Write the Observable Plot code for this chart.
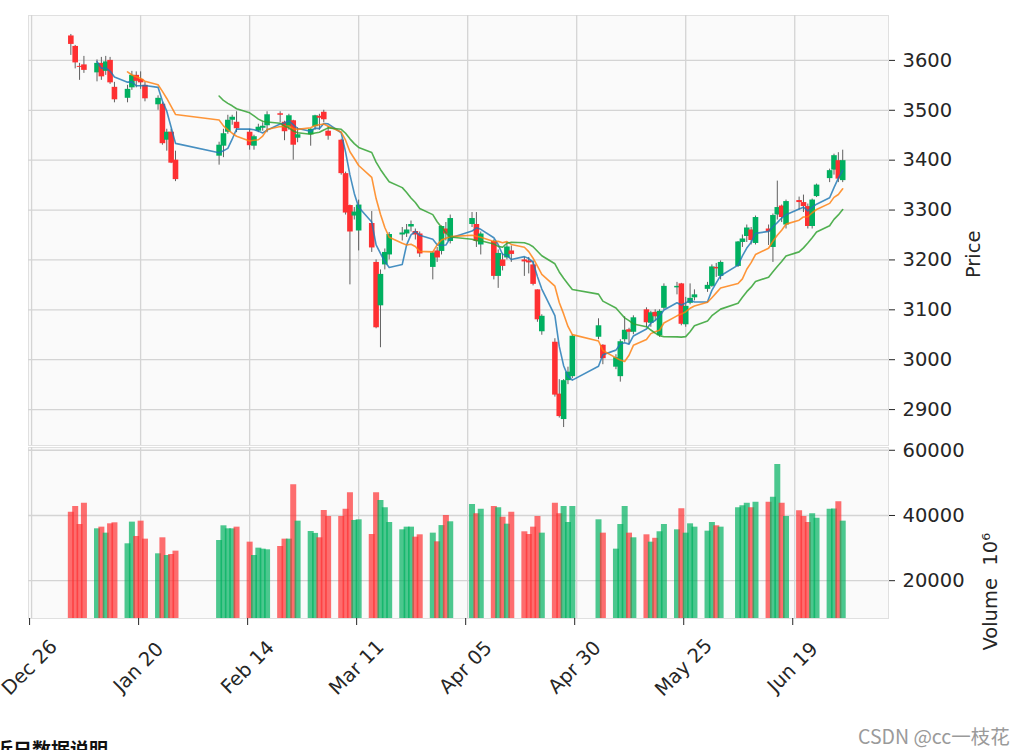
<!DOCTYPE html>
<html><head><meta charset="utf-8">
<script src="https://cdn.jsdelivr.net/npm/d3@7"></script>
<script src="https://cdn.jsdelivr.net/npm/@observablehq/plot@0.6"></script>
<style>
body{margin:0;background:#fff;}
#wrap{position:relative;width:1032px;height:750px;overflow:hidden;font-family:"DejaVu Sans",sans-serif;}
#price{position:absolute;left:0;top:0;}
#vol{position:absolute;left:0;top:447px;}
#wm{position:absolute;left:858px;top:721px;font-family:"Liberation Sans Narrow","Noto Sans CJK SC",sans-serif;font-size:19.5px;color:#9a9a9a;white-space:nowrap;}
#hd{position:absolute;left:-6px;top:739px;font-family:"Noto Sans CJK SC",sans-serif;font-weight:bold;font-size:19px;line-height:1;color:#111;white-space:nowrap;}
</style></head><body>
<div id="wrap"><div id="price"></div><div id="vol"></div><div id="wm">CSDN @cc一枝花</div><div id="hd">近日数据说明</div></div>
<script>
const dates = ["2022-01-04","2022-01-05","2022-01-06","2022-01-07","2022-01-10","2022-01-11","2022-01-12","2022-01-13","2022-01-14","2022-01-17","2022-01-18","2022-01-19","2022-01-20","2022-01-21","2022-01-24","2022-01-25","2022-01-26","2022-01-27","2022-01-28",
"2022-02-07","2022-02-08","2022-02-09","2022-02-10","2022-02-11","2022-02-14","2022-02-15","2022-02-16","2022-02-17","2022-02-18","2022-02-21","2022-02-22","2022-02-23","2022-02-24","2022-02-25","2022-02-28",
"2022-03-01","2022-03-02","2022-03-03","2022-03-04","2022-03-07","2022-03-08","2022-03-09","2022-03-10","2022-03-11","2022-03-14","2022-03-15","2022-03-16","2022-03-17","2022-03-18","2022-03-21","2022-03-22","2022-03-23","2022-03-24","2022-03-25","2022-03-28","2022-03-29","2022-03-30","2022-03-31",
"2022-04-01","2022-04-06","2022-04-07","2022-04-08","2022-04-11","2022-04-12","2022-04-13","2022-04-14","2022-04-15","2022-04-18","2022-04-19","2022-04-20","2022-04-21","2022-04-22","2022-04-25","2022-04-26","2022-04-27","2022-04-28","2022-04-29",
"2022-05-05","2022-05-06","2022-05-09","2022-05-10","2022-05-11","2022-05-12","2022-05-13","2022-05-16","2022-05-17","2022-05-18","2022-05-19","2022-05-20","2022-05-23","2022-05-24","2022-05-25","2022-05-26","2022-05-27","2022-05-30","2022-05-31",
"2022-06-01","2022-06-02","2022-06-06","2022-06-07","2022-06-08","2022-06-09","2022-06-10","2022-06-13","2022-06-14","2022-06-15","2022-06-16","2022-06-17","2022-06-20","2022-06-21","2022-06-22","2022-06-23","2022-06-24","2022-06-27","2022-06-28","2022-06-29","2022-06-30"];

const open = [3649,3628,3588,3591,3575,3594,3578,3600,3546,3524,3545,3570,3562,3550,3511,3512,3440,3456,3400,
3408,3428,3456,3480,3476,3456,3428,3458,3464,3469,3493,3476,3466,3479,3444,3451,
3467,3488,3496,3458,3440,3373,3309,3288,3258,3273,3195,3108,3190,3210,3250,3252,3266,3257,3252,3185,3218,3217,3262,
3237,3271,3271,3230,3237,3167,3200,3204,3218,3200,3198,3190,3140,3056,3035,2931,2880,2958,2966,
3045,3029,2985,2966,3040,3060,3055,3100,3073,3095,3048,3103,3144,3152,3070,3113,3124,3141,3147,
3185,3167,3187,3235,3247,3260,3233,3262,3225,3290,3308,3270,3319,3315,3307,3267,3327,3363,3380,3399,3359];

const high = [3652,3630,3594,3608,3601,3606,3608,3606,3556,3550,3578,3577,3577,3556,3529,3515,3462,3462,3418,
3436,3462,3490,3490,3497,3462,3450,3472,3475,3497,3497,3478,3492,3480,3465,3463,
3490,3492,3500,3468,3442,3376,3310,3305,3320,3297,3200,3180,3222,3255,3265,3271,3278,3262,3256,3216,3225,3268,3275,
3290,3295,3295,3256,3240,3220,3212,3235,3228,3205,3205,3198,3140,3090,3042,2960,2960,2985,3050,
3082,3030,3010,3040,3086,3063,3088,3104,3097,3100,3100,3152,3155,3153,3125,3152,3140,3155,3190,
3193,3198,3237,3250,3270,3265,3288,3270,3292,3358,3310,3320,3326,3330,3312,3322,3352,3382,3412,3415,3420];

const low = [3610,3583,3560,3574,3557,3560,3570,3552,3515,3515,3540,3545,3542,3517,3500,3430,3418,3393,3357,
3390,3405,3452,3470,3455,3420,3420,3455,3458,3455,3475,3439,3460,3400,3435,3428,
3460,3460,3475,3440,3370,3290,3150,3280,3218,3215,3062,3024,3180,3200,3238,3245,3256,3240,3205,3160,3195,3210,3238,
3232,3265,3225,3210,3160,3143,3178,3200,3195,3167,3172,3148,3075,3049,2925,2883,2864,2950,2962,
3040,2990,2980,2955,3035,3030,3050,3065,3065,3078,3045,3100,3130,3068,3065,3110,3118,3135,3145,
3165,3160,3185,3225,3235,3230,3230,3229,3195,3280,3275,3262,3300,3295,3262,3262,3325,3355,3370,3355,3355];

const close = [3632,3595,3586,3580,3594,3567,3597,3555,3521,3542,3570,3558,3555,3523,3524,3433,3456,3394,3361,
3430,3453,3480,3486,3463,3429,3447,3466,3468,3491,3490,3457,3489,3430,3451,3462,
3489,3484,3481,3448,3373,3294,3256,3296,3310,3224,3064,3171,3215,3251,3254,3260,3271,3250,3212,3214,3204,3267,3252,
3283,3283,3237,3252,3167,3213,3187,3226,3211,3196,3194,3151,3080,3087,2929,2886,2958,2975,3047,
3068,3002,3004,3036,3059,3055,3084,3074,3094,3086,3097,3147,3147,3071,3107,3123,3130,3149,3186,
3182,3195,3236,3242,3264,3239,3285,3256,3289,3305,3285,3317,3315,3307,3267,3320,3350,3379,3409,3362,3399];

const volume = [41000,42760,37240,43780,35910,36420,34580,37440,37750,31310,37960,33560,38260,32740,28240,33150,27730,28040,29060,
32330,36830,35910,35900,36420,31820,27730,29980,29670,29470,30490,32740,32740,49400,38260,35090,
34500,33150,41530,39690,39690,41940,46950,38470,38670,34170,46950,44600,42350,37850,35600,36420,36420,33350,34070,34580,31920,36900,40000,
38060,43370,40510,41940,42760,42350,39490,37340,41020,34990,34170,36420,39690,34580,43780,40510,42760,37850,42760,
38670,34580,29670,37240,42760,34580,33150,34070,31820,33000,35000,37240,35600,42040,34580,37440,36420,35190,37850,
36830,36420,42350,43000,43780,42350,44090,44090,45620,55640,43780,39690,41430,39690,37850,40510,39180,41940,42000,44190,38260];

const priceTicks = [2900, 3000, 3100, 3200, 3300, 3400, 3500, 3600];
const volumeTicks = [20000, 40000, 60000];
const dateTicks = ["2021-12-26","2022-01-20","2022-02-14","2022-03-11","2022-04-05","2022-04-30","2022-05-25","2022-06-19"];
const mavWindows = [5, 10, 20];

const parse = d3.utcParse("%Y-%m-%d");
const data = dates.map((d, i) => ({date: parse(d), open: open[i], high: high[i], low: low[i], close: close[i], volume: volume[i]}));
const tickDates = dateTicks.map(parse);
const isUp = d => d.close >= d.open;
const xDomain = [new Date(Date.UTC(2021, 11, 25, 7)), new Date(Date.UTC(2022, 6, 10, 12))];

const UP = "#00b060", DOWN = "#fe3032";
const mavColors = ["#1f77b4", "#ff7f0e", "#2ca02c"];
const gridStyle = {stroke: "#d4d4d4", strokeOpacity: 1, strokeWidth: 1.3};
const baseStyle = {fontFamily: "DejaVu Sans", fontSize: "19.5px", color: "#262626", background: "transparent", overflow: "visible"};
const plain = d3.format("d");

const price = Plot.plot({
  width: 1032, height: 445,
  marginLeft: 28, marginRight: 144, marginTop: 15, marginBottom: 0,
  style: baseStyle,
  x: {type: "utc", domain: xDomain, axis: null},
  y: {domain: [2828, 3690]},
  color: {type: "identity"},
  marks: [
    Plot.frame({fill: "#fafafa", stroke: "#e0e0e0"}),
    Plot.gridX(tickDates, gridStyle),
    Plot.gridY(priceTicks, gridStyle),
    Plot.axisY({ticks: priceTicks, tickFormat: plain, anchor: "right", tickSize: 6, tickPadding: 8, label: null}),
    Plot.ruleX(data, {x: "date", y1: "low", y2: "high", stroke: "#606060", strokeWidth: 1}),
    Plot.ruleX(data, {x: "date", y1: "open", y2: "close", stroke: d => isUp(d) ? UP : DOWN, strokeWidth: 5.6}),
    ...mavWindows.map((k, j) => Plot.lineY(data, Plot.windowY({k, anchor: "end", reduce: "mean", strict: true},
      {x: "date", y: "close", stroke: mavColors[j], strokeWidth: 1.6, strokeOpacity: 0.82}))),
    Plot.text(["Price"], {frameAnchor: "right", dx: 85.5, rotate: -90, fontSize: 19.5, fill: "#262626"})
  ]
});
document.getElementById("price").appendChild(price);

const vol = Plot.plot({
  width: 1032, height: 303,
  marginLeft: 28, marginRight: 144, marginTop: 0, marginBottom: 132,
  style: baseStyle,
  x: {type: "utc", domain: xDomain},
  y: {domain: [8400, 60850]},
  color: {type: "identity"},
  marks: [
    Plot.frame({fill: "#fafafa", stroke: "#e0e0e0"}),
    Plot.gridX(tickDates, gridStyle),
    Plot.gridY(volumeTicks, gridStyle),
    Plot.ruleX(data, {x: "date", y1: 0, y2: "volume", stroke: d => isUp(d) ? UP : DOWN, strokeOpacity: 0.7, strokeWidth: 6, clip: true}),
    Plot.axisY({ticks: volumeTicks, tickFormat: plain, anchor: "right", tickSize: 6, tickPadding: 8, label: null}),
    Plot.axisX({ticks: tickDates, anchor: "bottom", tickSize: 7, tickPadding: 42, tickRotate: -45, textAnchor: "middle", lineAnchor: "middle", dx: -2, tickFormat: d3.utcFormat("%b %d"), label: null}),
    Plot.text(["Volume  10⁶"], {frameAnchor: "right", dx: 102, rotate: -90, fontSize: 19.5, fill: "#262626"})
  ]
});
document.getElementById("vol").appendChild(vol);
</script>
</body></html>
